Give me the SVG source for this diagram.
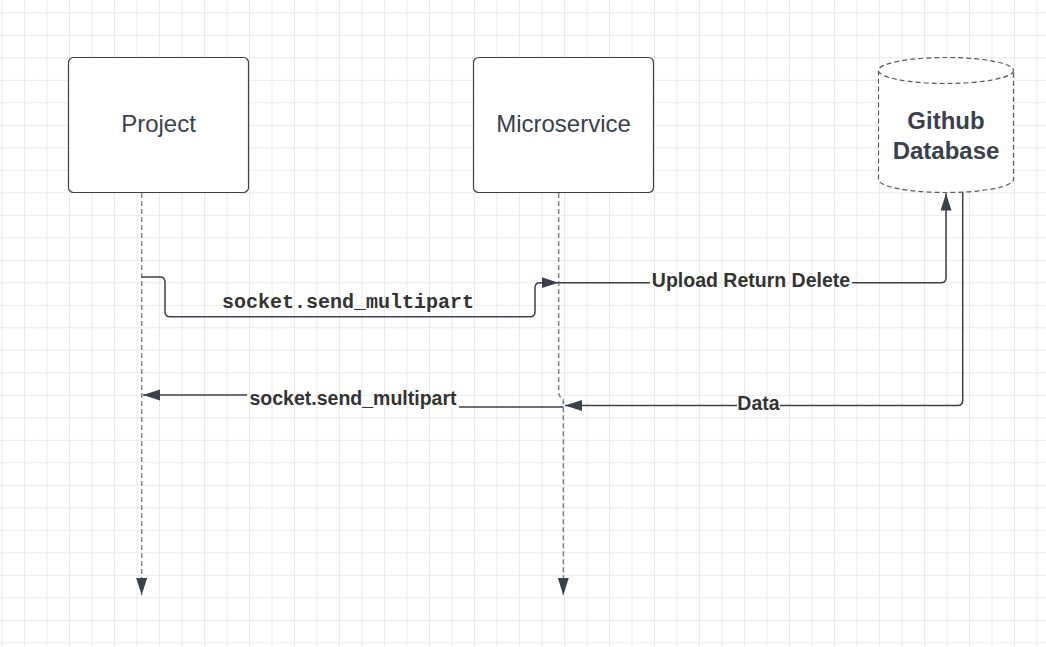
<svg xmlns="http://www.w3.org/2000/svg" width="1046" height="647" viewBox="0 0 1046 647">
<defs>
<pattern id="grid" patternUnits="userSpaceOnUse" x="1.5" y="12.3" width="22.5" height="22.5">
<path d="M0 0 H22.5 M0 0 V22.5" fill="none" stroke="#e4e4e4" stroke-width="1.5"/>
</pattern>
<marker id="arr" markerUnits="userSpaceOnUse" markerWidth="18" markerHeight="12" refX="17" refY="5.5" orient="auto">
<path d="M0,0 L17,5.5 L0,11 z" fill="#3a414a"/>
</marker>
<style>
.box{fill:#fff;stroke:#3a414a;stroke-width:1.2}
.lbl{font-family:"Liberation Sans",Arial,sans-serif;fill:#3a414a}
.edge{fill:none;stroke:#3a414a;stroke-width:1.5}
.life{fill:none;stroke:#80858c;stroke-width:1.5;stroke-dasharray:5 3}
.el{font-family:"Liberation Sans",Arial,sans-serif;font-weight:bold;font-size:19.5px;fill:#333;text-anchor:middle}
</style>
</defs>
<rect width="1046" height="647" fill="#fff"/>
<rect width="1046" height="647" fill="url(#grid)"/>

<g id="project">
<rect class="box" x="68.5" y="57.5" width="180" height="135" rx="5"/>
<text class="lbl" x="158.5" y="132" font-size="24" text-anchor="middle">Project</text>
</g>
<g id="microservice">
<rect class="box" x="473.5" y="57.5" width="180" height="135" rx="5"/>
<text class="lbl" x="563.5" y="132" font-size="24" text-anchor="middle">Microservice</text>
</g>
<g id="github-database">
<path d="M878.5,70.5 V179.5 A67.5,13 0 0 0 1013.5,179.5 V70.5" fill="#fff" stroke="#555b63" stroke-width="1.2" stroke-dasharray="5 3"/>
<ellipse cx="946" cy="70.5" rx="67.5" ry="13" fill="#fff" stroke="#555b63" stroke-width="1.2" stroke-dasharray="5 3"/>
<text class="lbl" x="946" y="129" font-size="24" font-weight="bold" text-anchor="middle">Github</text>
<text class="lbl" x="946" y="159" font-size="24" font-weight="bold" text-anchor="middle">Database</text>
</g>

<g id="connectors">
<path class="life" d="M141.7,193 V595" marker-end="url(#arr)"/>
<path class="life" d="M558.7,193 V392 Q558.7,397 563.3,399.5 V595" marker-end="url(#arr)"/>
<path class="edge" d="M141.7,277 H160 Q165,277 165,282 V311.7 Q165,316.7 170,316.7 H530 Q535,316.7 535,311.7 V287.7 Q535,282.7 540,282.7 H558.5" marker-end="url(#arr)"/>
<path class="edge" d="M558.7,282.7 H650"/>
<path class="edge" d="M852,282.7 H941 Q946,282.7 946,277.7 V193.5" marker-end="url(#arr)"/>
<path class="edge" d="M962.7,192.5 V400.5 Q962.7,405.5 957.7,405.5 H780"/>
<path class="edge" d="M737,405.5 H565" marker-end="url(#arr)"/>
<path class="edge" d="M563.3,407 H459"/>
<path class="edge" d="M247,395 H143" marker-end="url(#arr)"/>
<text x="348" y="308" font-family="'Liberation Mono','Courier New',monospace" font-weight="bold" font-size="20" fill="#333" text-anchor="middle">socket.send_multipart</text>
<text class="el" x="751" y="287">Upload Return Delete</text>
<text class="el" x="758.5" y="409.5">Data</text>
<text class="el" x="353" y="405">socket.send_multipart</text>
</g>
</svg>
